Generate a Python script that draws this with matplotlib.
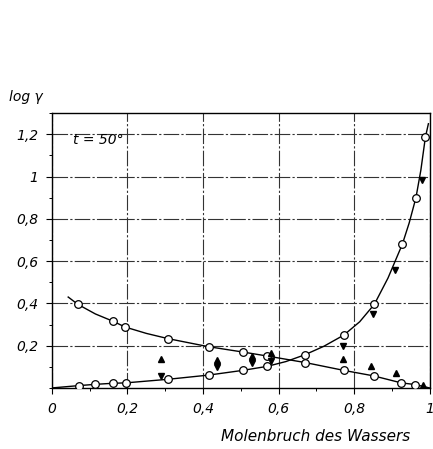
import matplotlib
matplotlib.use("Agg")
import matplotlib.pyplot as plt
import matplotlib.ticker as mticker

# measured points (open circles), mole fraction of water vs log gamma
x_dec = [0.069, 0.161, 0.194, 0.308, 0.415, 0.505, 0.570, 0.671, 0.773, 0.852, 0.925, 0.962]
y_dec = [0.395, 0.316, 0.288, 0.233, 0.195, 0.170, 0.151, 0.120, 0.083, 0.057, 0.024, 0.016]

x_inc = [0.071, 0.115, 0.161, 0.196, 0.308, 0.416, 0.505, 0.570, 0.670, 0.773, 0.854, 0.928, 0.964, 0.989]
y_inc = [0.011, 0.017, 0.022, 0.024, 0.041, 0.061, 0.083, 0.102, 0.157, 0.250, 0.396, 0.680, 0.900, 1.186]

# drawn curves
curve_dec_x = [0.043, 0.069, 0.115, 0.161, 0.194, 0.250, 0.308, 0.415, 0.505, 0.570, 0.671, 0.773, 0.852, 0.925, 0.962, 1.0]
curve_dec_y = [0.430, 0.395, 0.350, 0.316, 0.288, 0.258, 0.233, 0.195, 0.170, 0.151, 0.120, 0.083, 0.057, 0.024, 0.016, 0.0]
curve_inc_x = [0.0, 0.071, 0.115, 0.161, 0.196, 0.308, 0.416, 0.505, 0.570, 0.620, 0.670, 0.720, 0.773, 0.815,
               0.854, 0.890, 0.928, 0.946, 0.964, 0.977, 0.989, 0.997]
curve_inc_y = [0.0, 0.011, 0.017, 0.022, 0.024, 0.041, 0.061, 0.083, 0.102, 0.125, 0.157, 0.197, 0.250, 0.313,
               0.396, 0.520, 0.680, 0.780, 0.900, 1.030, 1.186, 1.250]

# filled triangles (other measurement series)
x_up = [0.288, 0.437, 0.531, 0.579, 0.772, 0.846, 0.912, 0.982]
y_up = [0.138, 0.132, 0.151, 0.167, 0.137, 0.105, 0.069, 0.014]
x_down = [0.288, 0.437, 0.531, 0.579, 0.772, 0.850, 0.909, 0.979]
y_down = [0.057, 0.100, 0.116, 0.127, 0.200, 0.349, 0.557, 0.984]

x_ticks = [0, 0.2, 0.4, 0.6, 0.8, 1.0]
x_labels = ["0", "0,2", "0,4", "0,6", "0,8", "1"]
y_ticks = [0.2, 0.4, 0.6, 0.8, 1.0, 1.2]
y_labels = ["0,2", "0,4", "0,6", "0,8", "1", "1,2"]

plt.rcParams["font.family"] = ["DejaVu Sans"]

fig = plt.figure(figsize=(4.33, 4.49), dpi=100)
ax = fig.add_axes([0.120, 0.136, 0.872, 0.612])

ax.plot(curve_dec_x, curve_dec_y, color="black", linewidth=1.0, zorder=2)
ax.plot(curve_inc_x, curve_inc_y, color="black", linewidth=1.0, zorder=2)
ax.plot(x_dec, y_dec, "o", markersize=5.5, markerfacecolor="white", markeredgecolor="black",
        markeredgewidth=0.9, zorder=3)
ax.plot(x_inc, y_inc, "o", markersize=5.5, markerfacecolor="white", markeredgecolor="black",
        markeredgewidth=0.9, zorder=3)
ax.plot(x_up, y_up, "^", markersize=4, color="black", zorder=3)
ax.plot(x_down, y_down, "v", markersize=4, color="black", zorder=3)

ax.set_xlim(0, 1.0)
ax.set_ylim(0, 1.3)
ax.set_xticks(x_ticks)
ax.set_xticklabels(x_labels, fontstyle="italic", fontsize=10)
ax.set_yticks(y_ticks)
ax.set_yticklabels(y_labels, fontstyle="italic", fontsize=10)
ax.xaxis.set_minor_locator(mticker.MultipleLocator(0.1))
ax.yaxis.set_minor_locator(mticker.MultipleLocator(0.1))
ax.tick_params(which="major", direction="out", length=4, width=0.8, pad=6)
ax.tick_params(which="minor", direction="out", length=2.5, width=0.7)

ax.grid(True, which="major", color="#333333", linestyle=(0, (14, 2, 2, 2)), linewidth=0.8)
for s in ax.spines.values():
    s.set_linewidth(1.0)

ax.text(0.055, 1.155, "t = 50°", fontstyle="italic", fontsize=10)
fig.text(0.02, 0.775, "log γ", fontstyle="italic", fontsize=10)
fig.text(0.73, 0.018, "Molenbruch des Wassers", fontstyle="italic", fontsize=11, ha="center")

plt.savefig("out.png", dpi=100)
plt.close()
